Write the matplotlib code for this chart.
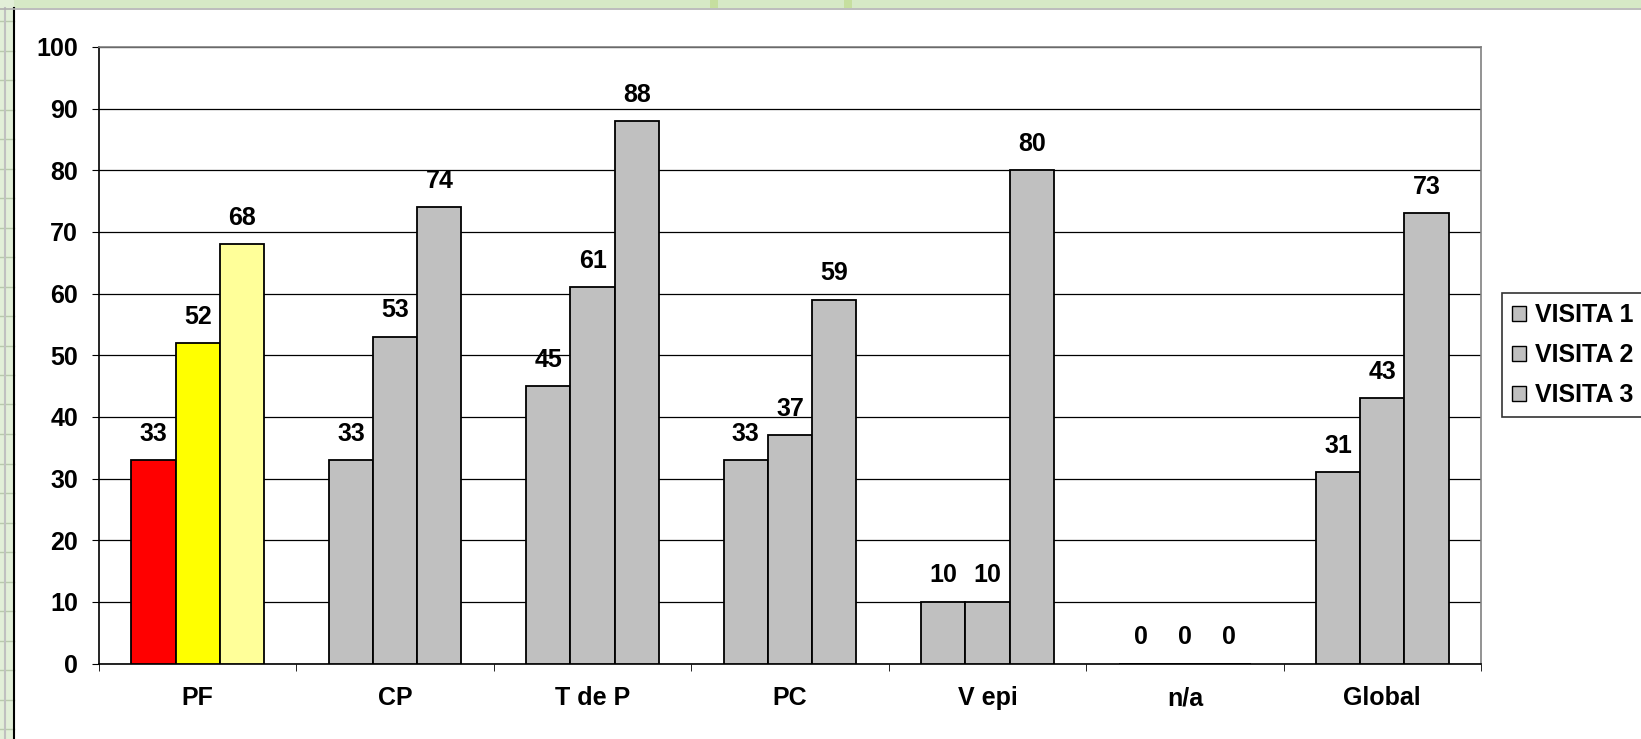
import matplotlib.pyplot as plt
from matplotlib.patches import Rectangle, Patch
from matplotlib.lines import Line2D
import numpy as np

plt.rcParams['font.family'] = ['Liberation Sans', 'DejaVu Sans']

# datos de las tres visitas
categorias = ['PF', 'CP', 'T de P', 'PC', 'V epi', 'n/a', 'Global']
visita1 = [33, 33, 45, 33, 10, 0, 31]
visita2 = [52, 53, 61, 37, 10, 0, 43]
visita3 = [68, 74, 88, 59, 80, 0, 73]
series = ['VISITA 1', 'VISITA 2', 'VISITA 3']

gris = '#c0c0c0'
colores_pf = ['#ff0000', '#ffff00', '#ffff99']  # la primera categoria va en color
fs = 18

W, H = 1641, 739
fig = plt.figure(figsize=(W / 100, H / 100), dpi=100)

# marco verde de la hoja de calculo
fig.patches.append(Rectangle((0, 1 - 8 / H), 1, 8 / H, transform=fig.transFigure,
                             facecolor='#d6e9c6', edgecolor='none', zorder=0))
for xx in [710, 844]:
    fig.patches.append(Rectangle((xx / W, 1 - 8 / H), 8 / W, 8 / H, transform=fig.transFigure,
                                 facecolor='#c6df9f', edgecolor='none', zorder=0))
fig.patches.append(Rectangle((0, 0), 14 / W, 1, transform=fig.transFigure,
                             facecolor='#e2efd8', edgecolor='none', zorder=0))
for yy in np.arange(21, H, 29.5):
    fig.lines.append(Line2D([0, 14 / W], [1 - yy / H] * 2, transform=fig.transFigure,
                            color='#b9c9ad', lw=1))
fig.lines.append(Line2D([5 / W, 5 / W], [0, 1 - 8 / H], transform=fig.transFigure,
                        color='#c0c0c0', lw=1.5))
fig.lines.append(Line2D([14 / W, 14 / W], [0, 1 - 8 / H], transform=fig.transFigure,
                        color='black', lw=1.5))
fig.lines.append(Line2D([0, 1], [1 - 8.5 / H] * 2, transform=fig.transFigure,
                        color='#b0b0b0', lw=1.2))

ax = fig.add_axes([99 / W, 1 - 663.5 / H, (1481 - 99) / W, (663.5 - 47) / H])

x = np.arange(len(categorias))
ancho = 0.224
for k, valores in enumerate([visita1, visita2, visita3]):
    cols = [colores_pf[k]] + [gris] * (len(categorias) - 1)
    pos = x + (k - 1) * ancho
    ax.bar(pos, valores, width=ancho, color=cols, edgecolor='black', linewidth=1.3, zorder=3)
    for px, v in zip(pos, valores):
        ax.annotate(str(v), (px, v), xytext=(0, 19), textcoords='offset points',
                    ha='center', va='center', fontsize=fs, fontweight='bold')

ax.set_xlim(-0.5, len(categorias) - 0.5)
ax.set_ylim(0, 100)
ax.set_yticks(np.arange(0, 101, 10))
ax.set_xticks(x)
ax.set_xticklabels(categorias, fontsize=fs, fontweight='bold')
ax.set_xticks(np.arange(-0.5, len(categorias)), minor=True)
ax.tick_params(axis='x', which='major', length=0, pad=16.5)
ax.tick_params(axis='x', which='minor', length=5, direction='out', color='black')
ax.tick_params(axis='y', length=5, direction='out', pad=10, labelsize=fs)
for t in ax.get_yticklabels():
    t.set_fontweight('bold')

ax.yaxis.grid(True, color='black', lw=0.9, zorder=0)
ax.set_axisbelow(True)
ax.spines['left'].set_color('black')
ax.spines['bottom'].set_color('black')
ax.spines['top'].set_color('#808080')
ax.spines['right'].set_color('#808080')
for s in ax.spines.values():
    s.set_linewidth(1.2)

handles = [Patch(facecolor=gris, edgecolor='black', lw=1) for _ in series]
leg = fig.legend(handles, series, loc='upper left',
                 bbox_to_anchor=(1502 / W, 1 - 293 / H), frameon=True, fancybox=False,
                 prop={'size': fs, 'weight': 'bold'}, handlelength=0.56, handleheight=0.56,
                 handletextpad=0.36, borderpad=0.4, labelspacing=0.65, borderaxespad=0)
leg.get_frame().set_edgecolor('black')
leg.get_frame().set_linewidth(1.2)

fig.savefig('out.png', dpi=100)
